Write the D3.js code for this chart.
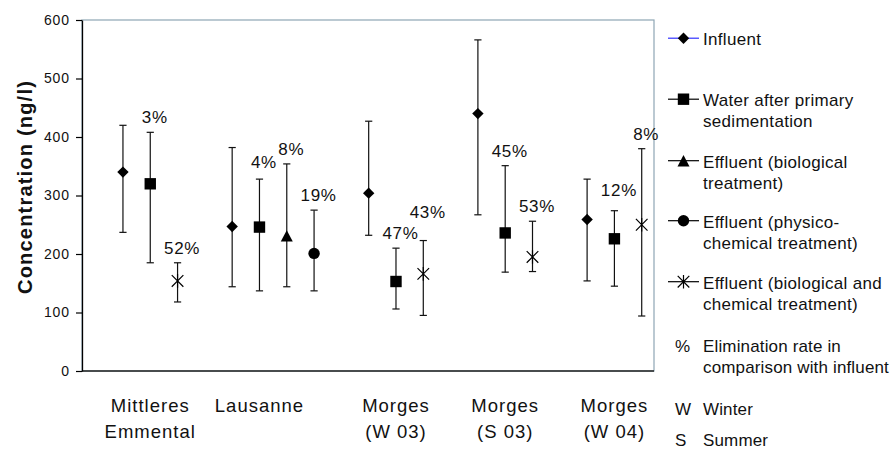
<!DOCTYPE html>
<html>
<head>
<meta charset="utf-8">
<script src="https://cdn.jsdelivr.net/npm/d3@7"></script>
<style>
  body { margin: 0; background: #fff; }
  svg { display: block; font-family: "Liberation Sans", Arial, sans-serif; }
</style>
</head>
<body>
<svg width="894" height="450"></svg>
<script>
// sites on the x axis (two lines each)
const sites = [
  ["Mittleres", "Emmental"],
  ["Lausanne"],
  ["Morges", "(W 03)"],
  ["Morges", "(S 03)"],
  ["Morges", "(W 04)"]
];

const seriesNames = [
  ["Influent"],
  ["Water after primary", "sedimentation"],
  ["Effluent (biological", "treatment)"],
  ["Effluent (physico-", "chemical treatment)"],
  ["Effluent (biological and", "chemical treatment)"]
];
const seriesMarkers = ["diamond", "square", "triangle", "circle", "star"];

// [mean, low, high] in ng/l, null where not measured
const influent   = [[340, 237, 420], [247, 144, 382], [304, 232, 427], [440, 267, 566], [259, 154, 328]];
const primary    = [[320, 185, 408], [246, 137, 328], [153, 106, 210], [236, 169, 351], [226, 145, 274]];
const biological = [null, [231, 144, 354], null, null, null];
const physChem   = [null, [201, 137, 275], null, null, null];
const bioChem    = [[154, 118, 185], null, [166, 95, 223], [195, 170, 256], [250, 94, 380]];

// elimination rate in comparison with influent
const elimPrimary    = ["3%", "4%", "47%", "45%", "12%"];
const elimBiological = [null, "8%", null, null, null];
const elimPhysChem   = [null, "19%", null, null, null];
const elimBioChem    = ["52%", null, "43%", "53%", "8%"];

const yTicks = [0, 100, 200, 300, 400, 500, 600];

const allSeries = [influent, primary, biological, physChem, bioChem];
const allElim = [sites.map(() => null), elimPrimary, elimBiological, elimPhysChem, elimBioChem];

// extra lift for a few labels that sit higher in the original
const labelLift = { "2-4": 14, "4-1": 6, "1-1": 2 };

const svg = d3.select("svg");
const mLeft = 82, mRight = 654, mTop = 20, mBottom = 371;

const y = d3.scaleLinear().domain([0, 600]).range([mBottom, mTop]);
const x = d3.scaleLinear().domain([-1.5, 19.45]).range([mLeft, mRight]);

// lay points out on consecutive slots, with one empty slot between sites
const points = [];
const siteCenter = [];
let slot = 0;
sites.forEach((s, si) => {
  allSeries.forEach((ser, k) => {
    const v = ser[si];
    if (!v) return;
    if (k === 1) siteCenter[si] = slot;
    points.push({ site: si, series: k, slot: slot, mean: v[0], low: v[1], high: v[2], pct: allElim[k][si] });
    slot++;
  });
  slot++;
});

// plot area border
svg.append("rect")
  .attr("x", mLeft).attr("y", mTop)
  .attr("width", mRight - mLeft).attr("height", mBottom - mTop)
  .attr("fill", "none")
  .attr("stroke", "#8ea6b4")
  .attr("stroke-width", 1.2);

svg.append("line")
  .attr("x1", mLeft).attr("x2", mRight)
  .attr("y1", mBottom).attr("y2", mBottom)
  .attr("stroke", "#222").attr("stroke-width", 1.3);

const yAxis = svg.append("g")
  .attr("transform", `translate(${mLeft},0)`)
  .call(d3.axisLeft(y).tickValues(yTicks).tickSize(6).tickSizeOuter(0).tickPadding(6));
yAxis.select(".domain").attr("stroke", "#000").attr("stroke-width", 1.3);
yAxis.selectAll(".tick line").attr("stroke", "#000").attr("stroke-width", 1.2);
yAxis.selectAll(".tick text")
  .attr("font-family", "Liberation Sans, Arial, sans-serif")
  .attr("font-size", 14)
  .attr("letter-spacing", "0.9px")
  .attr("fill", "#111");

svg.append("text")
  .attr("transform", `translate(31.5,187) rotate(-90)`)
  .attr("text-anchor", "middle")
  .attr("font-weight", "bold")
  .attr("font-size", 20)
  .attr("letter-spacing", "1.2px")
  .attr("fill", "#111")
  .text("Concentration (ng/l)");

// site labels, centred under the primary sedimentation point
const catG = svg.append("g");
sites.forEach((lines, si) => {
  const t = catG.append("text")
    .attr("text-anchor", "middle")
    .attr("font-size", 18.5)
    .attr("letter-spacing", "1px")
    .attr("fill", "#111");
  lines.forEach((ln, i) => {
    t.append("tspan")
      .attr("x", x(siteCenter[si]))
      .attr("y", 411.5 + i * 26.5)
      .text(ln);
  });
});

function drawMarker(g, kind, cx, cy) {
  const s = 5.7;
  if (kind === "diamond") {
    g.append("path").attr("d", `M${cx},${cy - s}L${cx + s},${cy}L${cx},${cy + s}L${cx - s},${cy}Z`).attr("fill", "#000");
  } else if (kind === "square") {
    g.append("rect").attr("x", cx - s).attr("y", cy - s).attr("width", 2 * s).attr("height", 2 * s).attr("fill", "#000");
  } else if (kind === "triangle") {
    g.append("path").attr("d", `M${cx},${cy - s}L${cx + s + 0.3},${cy + s}L${cx - s - 0.3},${cy + s}Z`).attr("fill", "#000");
  } else if (kind === "circle") {
    g.append("circle").attr("cx", cx).attr("cy", cy).attr("r", s).attr("fill", "#000");
  } else if (kind === "star") {
    const a = 5.8;
    g.append("path")
      .attr("d", `M${cx - a},${cy - a}L${cx + a},${cy + a}M${cx - a},${cy + a}L${cx + a},${cy - a}M${cx},${cy - a - 1}L${cx},${cy + a + 1}`)
      .attr("stroke", "#000").attr("stroke-width", 1.2).attr("fill", "none");
  }
}

// error bars
const cap = 3.6;
const bars = svg.append("g").attr("stroke", "#111").attr("stroke-width", 1.2);
points.forEach(p => {
  const px = x(p.slot);
  bars.append("line").attr("x1", px).attr("x2", px).attr("y1", y(p.high)).attr("y2", y(p.low));
  bars.append("line").attr("x1", px - cap).attr("x2", px + cap).attr("y1", y(p.high)).attr("y2", y(p.high));
  bars.append("line").attr("x1", px - cap).attr("x2", px + cap).attr("y1", y(p.low)).attr("y2", y(p.low));
});

const marks = svg.append("g");
points.forEach(p => drawMarker(marks, seriesMarkers[p.series], x(p.slot), y(p.mean)));

// elimination rates
svg.append("g").selectAll("text")
  .data(points.filter(p => p.pct))
  .join("text")
  .attr("x", p => x(p.slot) + 4.5)
  .attr("y", p => y(p.high) - 9 - (labelLift[p.site + "-" + p.series] || 0))
  .attr("text-anchor", "middle")
  .attr("font-size", 17)
  .attr("letter-spacing", "0.7px")
  .attr("fill", "#111")
  .text(p => p.pct);

// legend
const legBase = [45, 106, 167.5, 227.5, 288.5];
const leg = svg.append("g");
seriesNames.forEach((lines, k) => {
  const by = legBase[k];
  const my = by - 6.8;
  leg.append("line")
    .attr("x1", 668).attr("x2", 699).attr("y1", my).attr("y2", my)
    .attr("stroke", k === 0 ? "#3030ff" : "#000").attr("stroke-width", 1.2);
  drawMarker(leg, seriesMarkers[k], 683.5, my);
  const t = leg.append("text").attr("font-size", 17).attr("letter-spacing", "0.3px").attr("fill", "#111");
  lines.forEach((ln, i) => t.append("tspan").attr("x", 703).attr("y", by + i * 21).text(ln));
});

const notes = [
  ["%", ["Elimination rate in", "comparison with influent"], 351.5],
  ["W", ["Winter"], 415],
  ["S", ["Summer"], 445.5]
];
notes.forEach(([sym, lines, by]) => {
  leg.append("text").attr("x", 675).attr("y", by).attr("font-size", 17).attr("fill", "#111").text(sym);
  const t = leg.append("text").attr("font-size", 17).attr("letter-spacing", "0.15px").attr("fill", "#111");
  lines.forEach((ln, i) => t.append("tspan").attr("x", 703).attr("y", by + i * 21).text(ln));
});
</script>
</body>
</html>
